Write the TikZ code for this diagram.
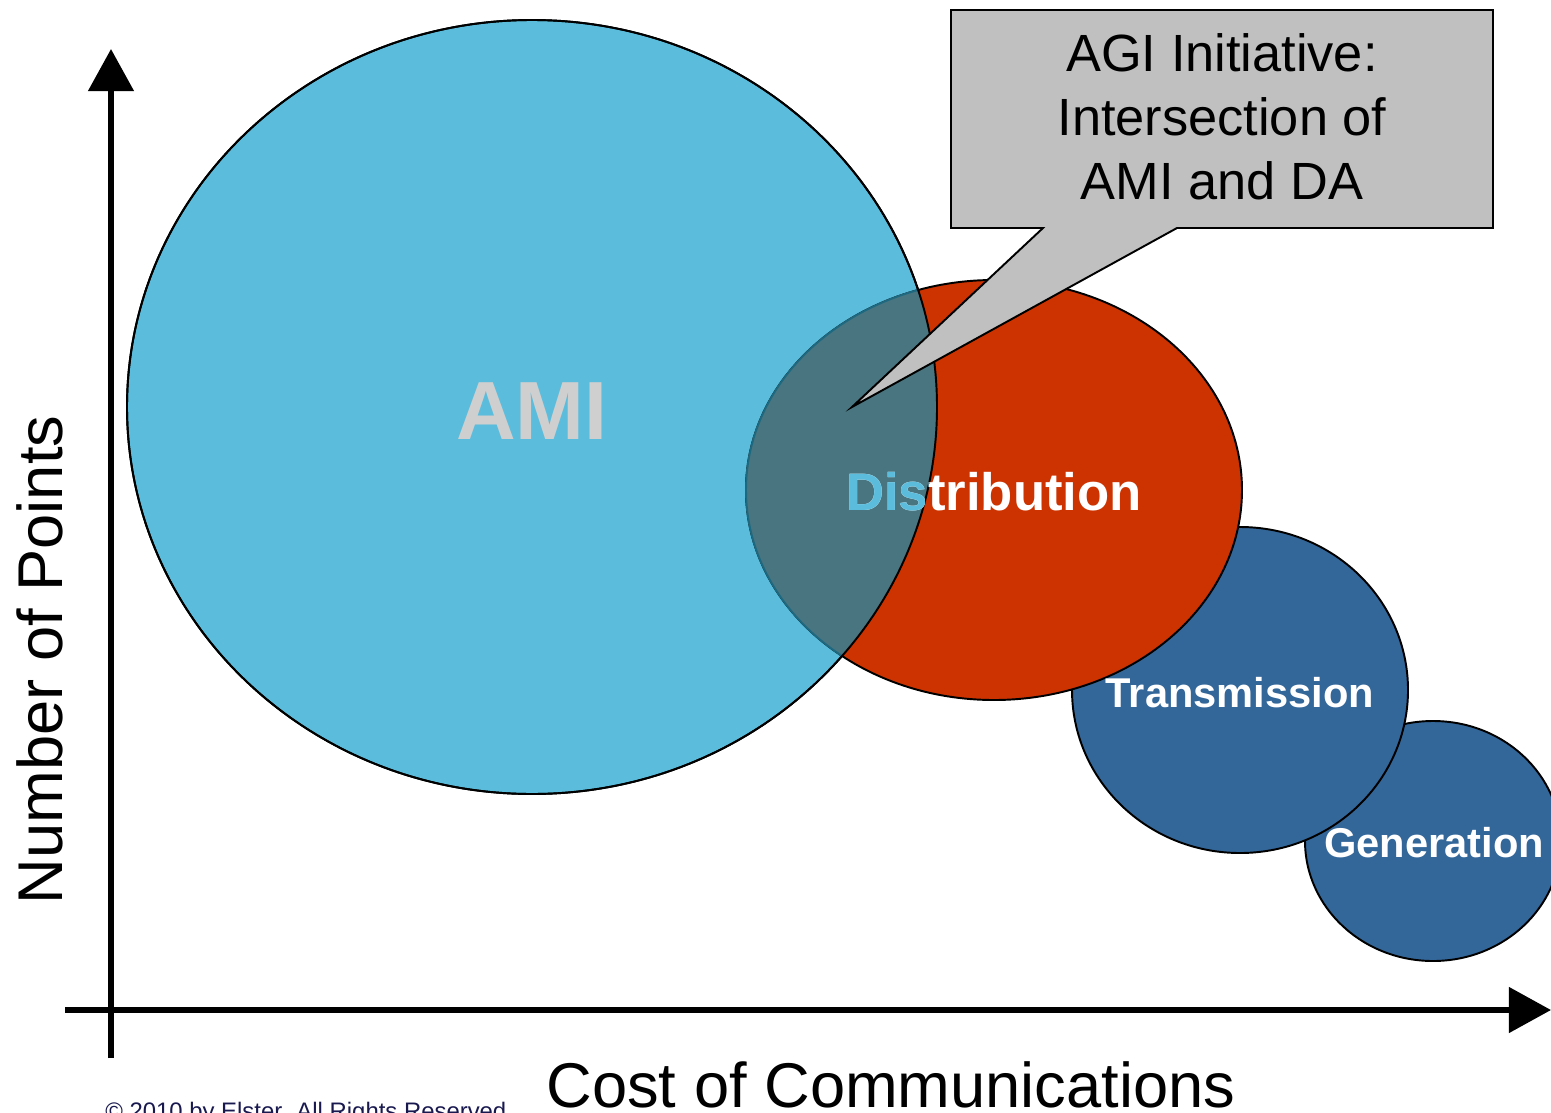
\documentclass[tikz,border=0pt]{standalone}
\usepackage{xcolor}
\usepackage{fontspec}
\setmainfont{Liberation Sans}
\usetikzlibrary{arrows.meta,calc}

\definecolor{amiblue}{RGB}{91,188,220}
\definecolor{distred}{RGB}{204,51,0}
\definecolor{gridblue}{RGB}{51,102,153}
\definecolor{overlapteal}{RGB}{72,117,128}
\definecolor{overlapedge}{RGB}{30,105,128}
\definecolor{calloutgray}{RGB}{192,192,192}
\definecolor{amigray}{RGB}{207,207,207}
\definecolor{copyblue}{RGB}{25,25,80}

\newcommand{\amishape}{(532,407) ellipse [x radius=405, y radius=387]}
\newcommand{\distshape}{(994,490) ellipse [x radius=248, y radius=210]}

\begin{document}
\begin{tikzpicture}[x=0.02cm,y=-0.02cm]
		\tikzset{
		    bubble/.style={draw=black, line width=1.1pt},
		    bubbletext/.style={inner sep=0pt, anchor=base, text=white, font=\bfseries\fontsize{23.7}{28}\selectfont},
		    axisline/.style={line width=3.2pt, -{Triangle[length=24pt,width=25.5pt]}},
		    axistext/.style={inner sep=0pt, anchor=base, font=\fontsize{36}{43}\selectfont},
		    callout/.style={draw=black, line width=1.1pt, fill=calloutgray, line join=miter}
		}
		\useasboundingbox (0,0) rectangle (1551,1112);

		% bubbles
		\path[bubble, fill=gridblue] (1433,841) ellipse [x radius=128, y radius=120];
		\path[bubble, fill=gridblue] (1240,690) ellipse [x radius=168, y radius=163];
		\path[bubble, fill=amiblue] \amishape;
		\path[bubble, fill=distred] \distshape;
		\begin{scope}
			\clip \amishape;
			\path[fill=overlapteal, draw=overlapedge, line width=1.1pt] \distshape;
		\end{scope}
		\path[draw=black, line width=1.1pt] \amishape;

		% bubble texts
		\node[bubbletext, text=amigray, font=\bfseries\fontsize{47}{56}\selectfont] (ami) at (532,439) {AMI};
		\node[bubbletext, font=\bfseries\fontsize{30}{36}\selectfont] (dist) at (994,510) {Distribution};
		\begin{scope}
			\clip \amishape;
			\node[bubbletext, text=amiblue, font=\bfseries\fontsize{30}{36}\selectfont] (distami) at (994,510) {Distribution};
		\end{scope}
		\node[bubbletext] (trans) at (1240,707) {Transmission};
		\node[bubbletext] (gen) at (1434,857) {Generation};

		% axes
		\coordinate (ybot) at (111,1058);
		\coordinate (ytop) at (111,49);
		\coordinate (xleft) at (65,1010);
		\coordinate (xright) at (1551,1010);
		\draw[axisline] (ybot) -- (ytop);
		\draw[axisline] (xleft) -- (xright);
		\node[axistext, rotate=90] (ylabel) at (62,660) {Number of Points};
		\node[axistext] (xlabel) at (891,1107) {Cost of Communications};

		% callout
		\coordinate (tip) at (852,407);
		\draw[callout] (951,10) -- (1493,10) -- (1493,228) -- (1177,228) -- (tip) -- (1043,228) -- (951,228) -- cycle;
		\node[align=center, inner sep=0pt, font=\fontsize{29.8}{36.3}\selectfont] (agi) at (1222,117)
			{AGI Initiative:\\Intersection of\\AMI and DA};

		\node[inner sep=0pt, anchor=base west, text=copyblue, font=\fontsize{13.6}{16}\selectfont] (copy) at (105,1119)
			{\textcopyright{} 2010 by Elster. All Rights Reserved};
\end{tikzpicture}
\end{document}
